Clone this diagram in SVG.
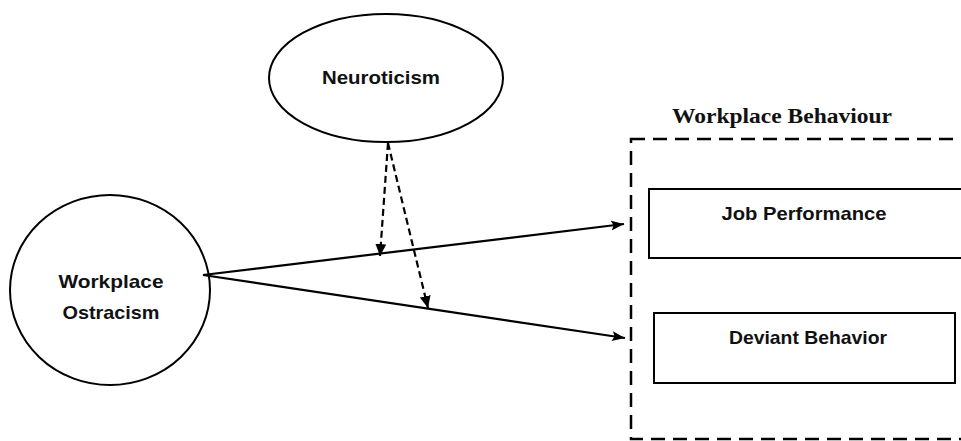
<svg xmlns="http://www.w3.org/2000/svg" width="961" height="441" viewBox="0 0 961 441">
<style>
.node{fill:#fff;stroke:#000;stroke-width:2}
.lbl{font-family:"Liberation Sans",Arial,sans-serif;font-weight:bold;font-size:19px;fill:#111;text-anchor:middle}
.title{font-family:"Liberation Serif","Times New Roman",serif;font-weight:bold;font-size:22px;fill:#111;text-anchor:middle}
.solid{stroke:#000;stroke-width:2.2;fill:none}
.dash{stroke:#000;stroke-width:2.2;fill:none;stroke-dasharray:7 4}
</style>
<defs>
<marker id="ah" viewBox="0 0 10 10" refX="10" refY="5" markerWidth="13" markerHeight="10" markerUnits="userSpaceOnUse" orient="auto" preserveAspectRatio="none">
<path d="M0,0 L10,5 L0,10 L2,5 z" fill="#000"/>
</marker>
<marker id="ah2" viewBox="0 0 10 10" refX="10" refY="5" markerWidth="12" markerHeight="11" markerUnits="userSpaceOnUse" orient="auto" preserveAspectRatio="none">
<path d="M0,0 L10,5 L0,10 z" fill="#000"/>
</marker>
</defs>
<rect width="961" height="441" fill="#fff"/>
<g id="group-workplace-behaviour">
<rect x="631" y="139" width="340" height="300" fill="none" stroke="#000" stroke-width="2.5" stroke-dasharray="14 8"/>
<text class="title" x="782" y="123" textLength="220" lengthAdjust="spacingAndGlyphs">Workplace Behaviour</text>
</g>
<g id="neuroticism">
<ellipse class="node" cx="386" cy="78" rx="117" ry="64"/>
<text class="lbl" x="381" y="84" textLength="118" lengthAdjust="spacingAndGlyphs">Neuroticism</text>
</g>
<g id="workplace-ostracism">
<ellipse class="node" cx="110" cy="290" rx="100" ry="95"/>
<text class="lbl" x="111" y="288" textLength="105" lengthAdjust="spacingAndGlyphs">Workplace</text>
<text class="lbl" x="111" y="319" textLength="97" lengthAdjust="spacingAndGlyphs">Ostracism</text>
</g>
<g id="job-performance">
<rect class="node" x="649" y="189" width="320" height="69"/>
<text class="lbl" x="804" y="220" textLength="165" lengthAdjust="spacingAndGlyphs">Job Performance</text>
</g>
<g id="deviant-behavior">
<rect class="node" x="654" y="313" width="301" height="70"/>
<text class="lbl" x="808" y="344" textLength="158" lengthAdjust="spacingAndGlyphs">Deviant Behavior</text>
</g>
<g id="connectors">
<path class="solid" d="M203,275 L624,224" marker-end="url(#ah)"/>
<path class="solid" d="M203,275 L625,338" marker-end="url(#ah)"/>
<path class="dash" d="M388,143 L380,256" marker-end="url(#ah2)"/>
<path class="dash" d="M388,143 L428,308" marker-end="url(#ah2)"/>
</g>
</svg>
